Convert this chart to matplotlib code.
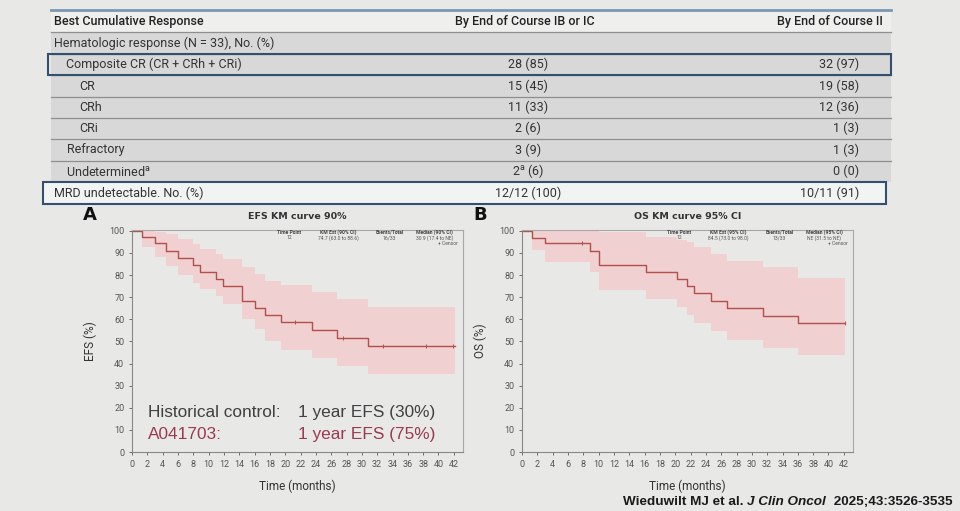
import numpy as np
import matplotlib.pyplot as plt
from matplotlib.patches import Rectangle

plt.rcParams['font.family'] = ['Roboto', 'DejaVu Sans']
plt.rcParams['mathtext.fontset'] = 'custom'
plt.rcParams['mathtext.rm'] = 'Roboto'

BG = '#e8e9e7'
CURVE = '#b2504b'
BAND = '#f0d0d0'

# --- table data ---
header = ["Best Cumulative Response", "By End of Course IB or IC", "By End of Course II"]
row_labels = ["Hematologic response (N = 33), No. (%)", "Composite CR (CR + CRh + CRi)",
              "CR", "CRh", "CRi", "Refractory", "Undetermined$^{\\rm a}$",
              "MRD undetectable. No. (%)"]
row_indent = [0, 1, 2, 2, 2, 1, 1, 0]
col_ib = ["", "28 (85)", "15 (45)", "11 (33)", "2 (6)", "3 (9)", "2$^{\\rm a}$ (6)", "12/12 (100)"]
col_ii = ["", "32 (97)", "19 (58)", "12 (36)", "1 (3)", "1 (3)", "0 (0)", "10/11 (91)"]

# --- EFS ---
efs_time = [0, 1.3, 3.0, 4.4, 6.0, 8.0, 8.9, 11.0, 11.9, 14.3, 16.0, 17.3, 19.5, 23.5, 26.7, 30.8, 42.1]
efs_surv = [100, 97.3, 94.3, 91.0, 87.8, 84.6, 81.5, 78.3, 75.0, 68.5, 65.3, 62.0, 58.6, 55.0, 51.7, 47.9, 47.9]
efs_lo = [100, 92.5, 88.0, 84.0, 80.0, 76.5, 73.5, 70.5, 67.0, 60.0, 55.5, 50.2, 46.0, 42.4, 39.0, 35.2, 35.2]
efs_hi = [100, 100, 99.5, 98.5, 96.5, 94.0, 92.0, 89.5, 87.5, 83.5, 80.5, 77.5, 75.5, 72.2, 69.0, 65.4, 65.4]
efs_censor = [21.3, 27.6, 32.8, 38.4, 41.9]

# --- OS ---
os_time = [0, 1.3, 3.0, 8.9, 10.1, 16.2, 20.2, 21.5, 22.4, 24.7, 26.7, 31.5, 36.0, 42.1]
os_surv = [100, 97.0, 94.3, 91.0, 84.6, 81.5, 78.3, 75.0, 71.8, 68.5, 65.0, 61.7, 58.4, 58.4]
os_lo = [100, 91.3, 86.0, 81.5, 73.3, 69.0, 65.5, 62.0, 58.5, 54.5, 50.5, 47.2, 43.7, 43.7]
os_hi = [100, 100, 100, 100, 99.3, 97.3, 96.0, 95.0, 92.5, 89.5, 86.5, 83.5, 78.5, 78.5]
os_censor = [7.8, 42.1]

efs_box = [["Time Point", "KM Est (90% CI)", "Events/Total", "Median (90% CI)"],
           ["12", "74.7 (63.0 to 88.6)", "16/33", "30.9 (17.4 to NE)"]]
os_box = [["Time Point", "KM Est (95% CI)", "Events/Total", "Median (95% CI)"],
          ["12", "84.5 (73.0 to 98.0)", "13/33", "NE (31.5 to NE)"]]

fig = plt.figure(figsize=(9.6, 5.11), dpi=100, facecolor=BG)

# table drawn in pixel coordinates
tab = fig.add_axes([0, 0, 1, 1])
tab.set_xlim(0, 960)
tab.set_ylim(511, 0)
tab.axis('off')

edges = [10, 32, 54, 75, 97, 118, 139, 161, 182, 204]
x0, x1 = 50.5, 891
tab.add_patch(Rectangle((x0, edges[0]), x1 - x0, edges[1] - edges[0], facecolor='#efefee', edgecolor='none'))
tab.add_patch(Rectangle((x0, edges[1]), x1 - x0, edges[8] - edges[1], facecolor='#d7d8d7', edgecolor='none'))
for e in edges[1:8]:
    tab.plot([x0, x1], [e, e], color='#8e8f8f', lw=0.9)
tab.plot([x0, x1], [edges[0], edges[0]], color='#7b98b3', lw=2)
# highlighted rows
tab.add_patch(Rectangle((48, edges[2]), x1 - 48, edges[3] - edges[2], facecolor='none',
                        edgecolor='#34506e', lw=1.5, zorder=3))
tab.add_patch(Rectangle((43, edges[8]), 886 - 43, edges[9] - edges[8], facecolor='#f2f3f3',
                        edgecolor='#34506e', lw=1.5, zorder=3))

tc = '#333333'
fs = 9.0
hy = (edges[0] + edges[1]) / 2
tab.text(54, hy, header[0], fontsize=fs, color='#222222', fontweight='medium', va='center')
tab.text(525, hy, header[1], fontsize=fs, color='#222222', fontweight='medium', va='center', ha='center')
tab.text(883, hy, header[2], fontsize=fs, color='#222222', fontweight='medium', va='center', ha='right')
for i, lab in enumerate(row_labels):
    cy = (edges[i + 1] + edges[i + 2]) / 2
    tab.text(54 + 12.5 * row_indent[i], cy, lab, fontsize=fs, color=tc, va='center', zorder=4)
    tab.text(528, cy, col_ib[i], fontsize=fs, color=tc, va='center', ha='center', zorder=4)
    tab.text(859, cy, col_ii[i], fontsize=fs, color=tc, va='center', ha='right', zorder=4)


def km_panel(rect, t, s, lo, hi, cens, title, ylab, letter, box):
    ax = fig.add_axes(rect, facecolor='none')
    ax.fill_between(t, lo, hi, step='post', color=BAND, lw=0)
    ax.step(t, s, where='post', color=CURVE, lw=1.0)
    cy = [s[np.searchsorted(t, c, side='right') - 1] for c in cens]
    ax.plot(cens, cy, ls='none', marker='|', ms=3, mew=0.7, color=CURVE)
    ax.set_xlim(0, 43.2)
    ax.set_ylim(0, 100.4)
    ax.set_xticks(range(0, 43, 2))
    ax.set_yticks(range(0, 101, 10))
    ax.tick_params(labelsize=6.5, colors='#555555', length=2.5, width=0.6, pad=3)
    for sp in ax.spines.values():
        sp.set_color('#a8a8a8')
        sp.set_linewidth(0.8)
    ax.spines['left'].set_color('#888888')
    ax.spines['bottom'].set_color('#888888')
    ax.set_title(title, fontsize=6.8, fontweight='bold', color='#333333', pad=8,
                 family=['DejaVu Sans'])
    ax.set_xlabel('Time (months)', fontsize=8.5, color='#333333', labelpad=8)
    ax.set_ylabel(ylab, fontsize=8.5, color='#333333', labelpad=9)
    ax.text(-0.148, 1.043, letter, transform=ax.transAxes, fontsize=13, fontweight='bold',
            color='#111111', family=['DejaVu Sans'], va='baseline')
    cols = [0.475, 0.622, 0.778, 0.913]
    for j, cx in enumerate(cols):
        ax.text(cx, 0.99, box[0][j], transform=ax.transAxes, fontsize=3.6, fontweight='bold',
                ha='center', va='center', color='#444444')
        ax.text(cx, 0.964, box[1][j], transform=ax.transAxes, fontsize=3.6,
                ha='center', va='center', color='#555555')
    ax.text(0.985, 0.94, '+ Censor', transform=ax.transAxes, fontsize=3.6,
            ha='right', va='center', color='#555555')
    return ax


ax1 = km_panel([132 / 960, 59 / 511, 331 / 960, 222 / 511], efs_time, efs_surv, efs_lo, efs_hi,
               efs_censor, 'EFS KM curve 90%', 'EFS (%)', 'A', efs_box)
ax2 = km_panel([522 / 960, 59 / 511, 331 / 960, 222 / 511], os_time, os_surv, os_lo, os_hi,
               os_censor, 'OS KM curve 95% CI', 'OS (%)', 'B', os_box)

afont = ['Liberation Sans', 'DejaVu Sans']
afs = 12.4
ax1.text(0.048, 0.18, 'Historical control:', transform=ax1.transAxes, fontsize=afs,
         color='#404040', va='center', family=afont)
ax1.text(0.502, 0.18, '1 year EFS (30%)', transform=ax1.transAxes, fontsize=afs,
         color='#404040', va='center', family=afont)
ax1.text(0.048, 0.081, 'A041703:', transform=ax1.transAxes, fontsize=afs,
         color='#9b3a4e', va='center', family=afont)
ax1.text(0.502, 0.081, '1 year EFS (75%)', transform=ax1.transAxes, fontsize=afs,
         color='#9b3a4e', va='center', family=afont)

# citation, pieces chained on a common baseline
cfont = ['Liberation Sans', 'DejaVu Sans']
cfs = 9.7
c1 = tab.text(623, 505, 'Wieduwilt MJ et al. ', fontsize=cfs, fontweight='bold',
              color='#1a1a1a', va='baseline', family=cfont)
c2 = tab.text(0, 0, 'J Clin Oncol ', fontsize=cfs, fontweight='bold', style='italic',
              color='#1a1a1a', va='baseline', family=cfont)
c3 = tab.text(0, 0, ' 2025;43:3526-3535', fontsize=cfs, fontweight='bold',
              color='#1a1a1a', va='baseline', family=cfont)
fig.canvas.draw()
r = fig.canvas.get_renderer()
inv = tab.transData.inverted()
xe = inv.transform(c1.get_window_extent(r).get_points())[1][0]
c2.set_position((xe, 505))
xe = inv.transform(c2.get_window_extent(r).get_points())[1][0]
c3.set_position((xe, 505))

fig.savefig('out.png', dpi=100, facecolor=BG)
